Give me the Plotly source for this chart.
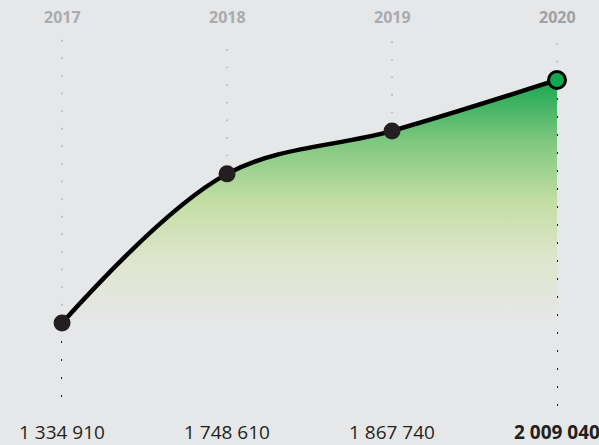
import plotly.graph_objects as go

years = ["2017", "2018", "2019", "2020"]
values = [1334910, 1748610, 1867740, 2009040]
value_labels = [f"{v:,}".replace(",", " ") for v in values]

BG = "#e6e7e8"
DARK = "#231f20"
GREEN = "#0fa84f"

x = list(range(len(years)))
y_range = [996500, 2230900]
dot_top = 2133800
dot_bottom = 1093600

fig = go.Figure()

# dotted guide lines
for i, v in enumerate(values):
    fig.add_trace(go.Scatter(x=[i, i], y=[v, dot_top], mode="lines",
                             line=dict(color="#b3b5b8", width=1.6, dash="1.6px,16px"),
                             hoverinfo="skip", showlegend=False))
    fig.add_trace(go.Scatter(x=[i, i], y=[v, dot_bottom], mode="lines",
                             line=dict(color=DARK, width=2, dash="2px,16px"),
                             hoverinfo="skip", showlegend=False))

# gradient fill + line
fig.add_trace(go.Scatter(
    x=x, y=values, mode="lines",
    line=dict(color="black", width=4.5, shape="spline", smoothing=1),
    fill="tozeroy",
    fillgradient=dict(
        type="vertical",
        start=values[0], stop=values[-1],
        colorscale=[[0, BG], [0.26, "#dfe5cc"], [0.5, "#c3dea4"],
                    [0.75, "#7ec77f"], [1, "#18a650"]],
    ),
    hoverinfo="skip", showlegend=False))

# markers
fig.add_trace(go.Scatter(
    x=x, y=values, mode="markers", opacity=1,
    marker=dict(size=[17, 17, 17, 17], opacity=1,
                color=[DARK, DARK, DARK, GREEN],
                line=dict(color="black", width=[0, 0, 0, 3])),
    hoverinfo="skip", showlegend=False))

for i, (yr, lab) in enumerate(zip(years, value_labels)):
    last = i == len(years) - 1
    fig.add_annotation(x=i, y=1 - 17 / 445, xref="x", yref="paper",
                       yanchor="middle", xanchor="center",
                       text=f"<b>{yr}</b>", showarrow=False,
                       font=dict(family="Open Sans", size=16,
                                 color="#9fa1a4" if last else "#a9abae"))
    fig.add_annotation(x=i, y=1 - 432 / 445, xref="x", yref="paper",
                       yanchor="middle", xanchor="center",
                       text=f"<b>{lab}</b>" if last else lab, showarrow=False,
                       font=dict(family="Open Sans", size=19, color=DARK))

fig.update_layout(
    width=599, height=445,
    margin=dict(l=0, r=0, t=0, b=0),
    paper_bgcolor=BG, plot_bgcolor=BG,
    xaxis=dict(range=[-0.376, 3.2545], visible=False, fixedrange=True),
    yaxis=dict(range=y_range, visible=False, fixedrange=True),
)

fig.write_html("out.html", config={"displayModeBar": False},
               post_script="document.body.style.margin='0';document.body.style.overflow='hidden';")
